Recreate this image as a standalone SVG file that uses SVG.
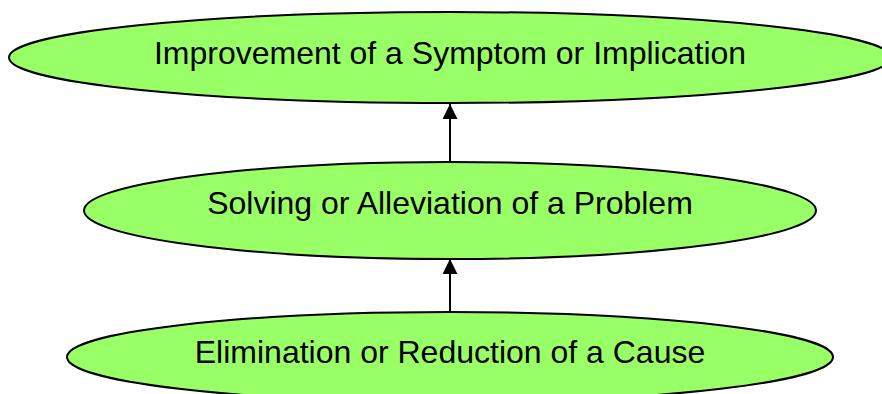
<svg xmlns="http://www.w3.org/2000/svg" width="882" height="394" viewBox="0 0 882 394">
  <style>
    .node ellipse { fill: #99ff66; stroke: #000; stroke-width: 2; }
    .node text { font-family: "Liberation Sans", Arial, sans-serif; font-size: 32px; fill: #000; text-anchor: middle; }
    .edge { stroke: #000; stroke-width: 2; fill: none; marker-end: url(#arrow); }
  </style>
  <defs>
    <marker id="arrow" markerUnits="userSpaceOnUse" markerWidth="15" markerHeight="16" refX="15" refY="7.5" orient="auto">
      <path d="M0,0 L15,7.5 L0,15 Z" fill="#000"/>
    </marker>
  </defs>
  <rect width="882" height="394" fill="#fff"/>
  <g id="connectors">
    <path class="edge" d="M450,162 L450,104"/>
    <path class="edge" d="M450,311 L450,259"/>
  </g>
  <g id="symptom" class="node">
    <ellipse cx="450" cy="57.5" rx="441" ry="45.5"/>
    <text x="450" y="64">Improvement of a Symptom or Implication</text>
  </g>
  <g id="problem" class="node">
    <ellipse cx="450" cy="210.5" rx="366" ry="48.5"/>
    <text x="450" y="214">Solving or Alleviation of a Problem</text>
  </g>
  <g id="cause" class="node">
    <ellipse cx="450" cy="357" rx="383" ry="45"/>
    <text x="450" y="363">Elimination or Reduction of a Cause</text>
  </g>
</svg>
